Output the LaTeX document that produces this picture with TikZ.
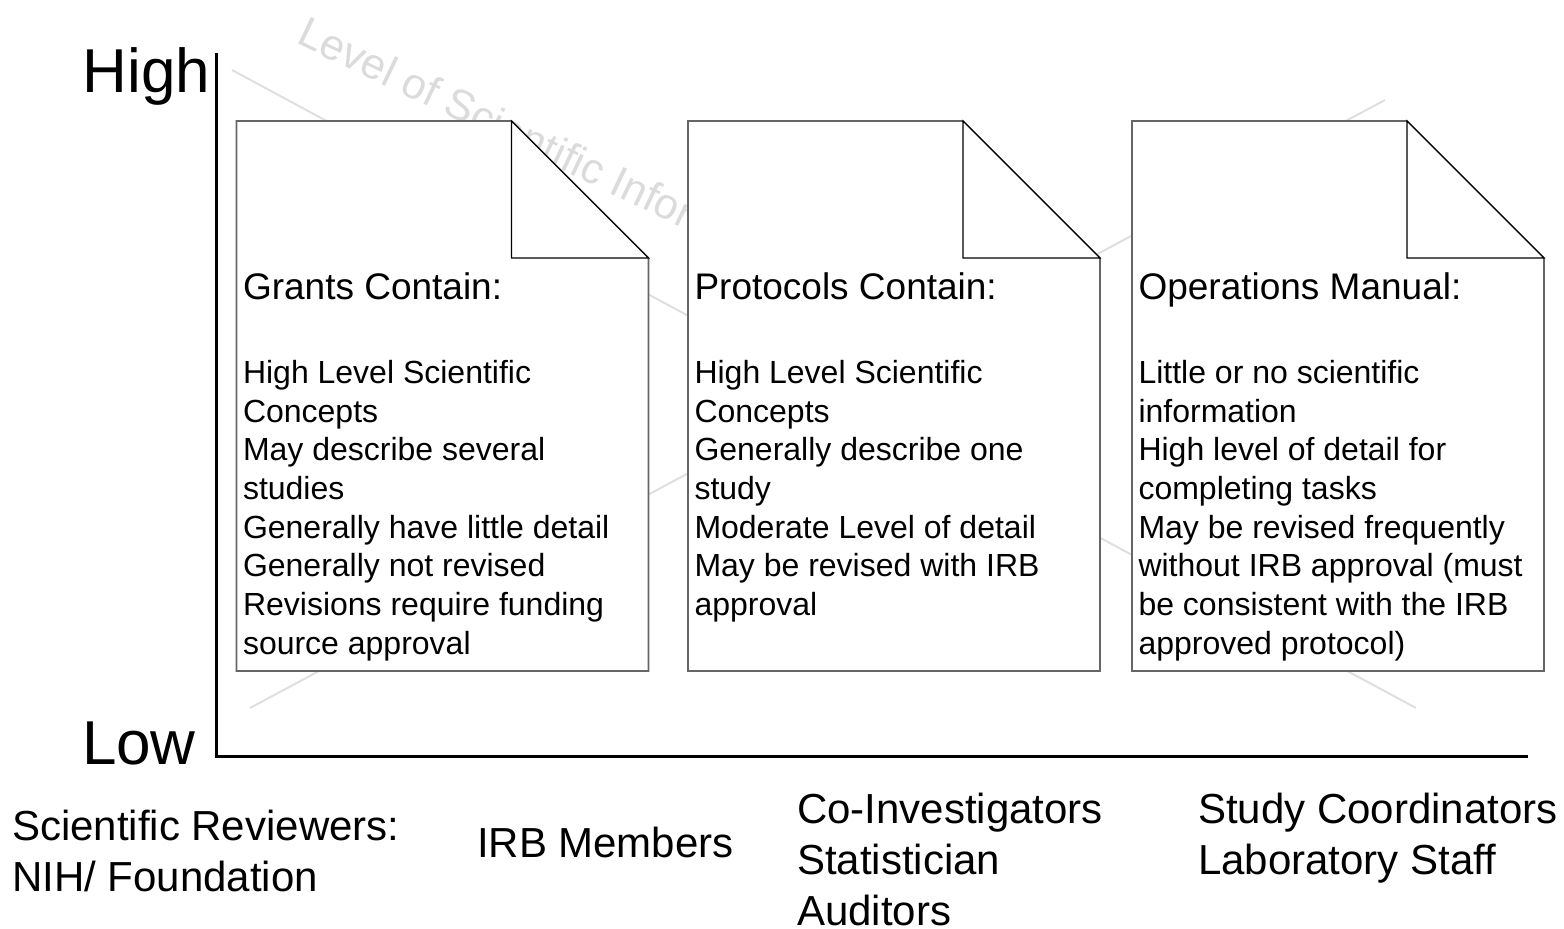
\documentclass[tikz,border=0pt]{standalone}
\usepackage{fontspec}
\setmainfont{Liberation Sans}
\usetikzlibrary{positioning}

% 複数行ラベル (左揃え)
\newcommand{\stackL}[1]{\begin{tabular}[t]{@{}l@{}}#1\end{tabular}}

\begin{document}
\begin{tikzpicture}[x=0.5pt, y=-0.5pt,
    every node/.style={inner sep=0pt, outer sep=0pt},
    axis/.style={line width=1.5pt},
    guide/.style={gray!25, line width=1pt},
    guidetext/.style={gray!28, anchor=base west, rotate=-25.5, font=\fontsize{21.5}{25}\selectfont},
    sheet/.style={fill=white, draw=black!60, line width=0.8pt},
    fold/.style={fill=white, draw=black, line width=0.6pt},
    head/.style={anchor=base west, font=\fontsize{18.5}{22}\selectfont},
    body/.style={anchor=base west, font=\fontsize{16}{19.35}\selectfont},
    who/.style={anchor=base west, font=\fontsize{21}{25.5}\selectfont},
    level/.style={anchor=base west, font=\fontsize{31}{37}\selectfont}]
        % 定義
        \def\W{412}  % 書類の幅
        \def\F{137}  % 折り返しの大きさ
        \def\T{121}  % 書類の上端
        \def\B{671}  % 書類の下端

        \useasboundingbox (0,0) rectangle (1564,929);

        % 背景の X 字の線
        \draw[guide] (232,70) -- (1416,708);
        \draw[guide] (250,708) -- (1385,100);
        \node[guidetext] (info) at (295,43) {Level of Scientific Information};

        % 座標軸
        \draw[axis] (216.5,53) -- (216.5,756.5) -- (1528,756.5);
        \node[level] (high) at (83,93) {High};
        \node[level] (low) at (82,765) {Low};

        % 書類 (三枚)
        \foreach \x in {236.5, 688, 1132} {
            \draw[sheet] (\x,\T) -- (\x+\W-\F,\T) -- (\x+\W,\T+\F) -- (\x+\W,\B) -- (\x,\B) -- cycle;
            \draw[fold] (\x+\W-\F,\T) -- ++(0,\F) -- ++(\F,0) -- cycle;
        }

        % 書類の中身
        \node[head] (grant-head) at (243,300) {Grants Contain:};
        \node[body] (grant-body) at (243,383.5) {\stackL{High Level Scientific\\ Concepts\\ May describe several\\ studies\\ Generally have little detail\\ Generally not revised\\ Revisions require funding\\ source approval}};

        \node[head] (proto-head) at (694.5,300) {Protocols Contain:};
        \node[body] (proto-body) at (694.5,383.5) {\stackL{High Level Scientific\\ Concepts\\ Generally describe one\\ study\\ Moderate Level of detail\\ May be revised with IRB\\ approval}};

        \node[head] (ops-head) at (1138.5,300) {Operations Manual:};
        \node[body] (ops-body) at (1138.5,383.5) {\stackL{Little or no scientific\\ information\\ High level of detail for\\ completing tasks\\ May be revised frequently\\ without IRB approval (must\\ be consistent with the IRB\\ approved protocol)}};

        % 読み手
        \node[who] (reviewers) at (12,841) {\stackL{Scientific Reviewers:\\ NIH/ Foundation}};
        \node[who] (irb) at (477,857) {IRB Members};
        \node[who] (coinv) at (797,824) {\stackL{Co-Investigators\\ Statistician\\ Auditors}};
        \node[who] (coord) at (1198,824) {\stackL{Study Coordinators\\ Laboratory Staff}};
\end{tikzpicture}
\end{document}
